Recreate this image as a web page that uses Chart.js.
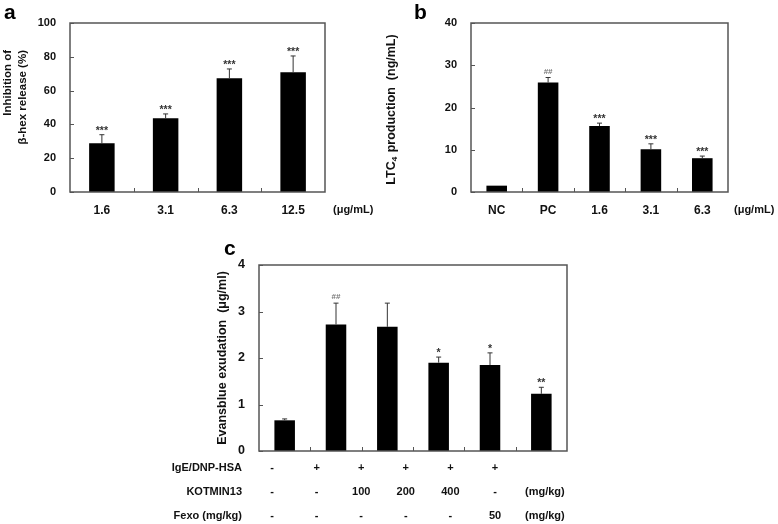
<!DOCTYPE html>
<html lang="en">
  <head>
    <meta charset="UTF-8" />
    <script src="https://cdn.jsdelivr.net/npm/chart.js@4.4.0/dist/chart.umd.min.js"></script>
    <title>Inhibition, LTC4 and Evansblue panels</title>
    <style>
      body {
        margin: 0;
        padding: 0;
        background: #fff;
      }
      .page {
        position: relative;
        width: 778px;
        height: 524px;
        overflow: hidden;
      }
      canvas {
        position: absolute;
      }
    </style>
  </head>
  <body>
    <div class="page">
      <canvas id="panelA" width="380" height="225" style="left:0;top:0"></canvas>
      <canvas id="panelB" width="398" height="225" style="left:380px;top:0"></canvas>
      <canvas id="panelC" width="628" height="294" style="left:150px;top:230px"></canvas>
    </div>
    <script>
      // panel a
      const doseA = ['1.6', '3.1', '6.3', '12.5']
      const inhibA = [28.8, 43.6, 67.3, 70.8]
      const inhibTopA = [33.9, 46.2, 72.8, 80.5]
      const sigA = ['***', '***', '***', '***']
      const ticksA = [0, 20, 40, 60, 80, 100]

      // panel b
      const groupB = ['NC', 'PC', '1.6', '3.1', '6.3']
      const ltcB = [1.5, 25.9, 15.6, 10.1, 8.0]
      const ltcTopB = [1.5, 27.1, 16.3, 11.4, 8.5]
      const sigB = ['', '##', '***', '***', '***']
      const ticksB = [0, 10, 20, 30, 40]

      // panel c
      const groupC = ['1', '2', '3', '4', '5', '6']
      const evansC = [0.66, 2.72, 2.67, 1.9, 1.85, 1.23]
      const evansTopC = [0.69, 3.18, 3.18, 2.02, 2.11, 1.37]
      const sigC = ['', '##', '', '*', '*', '**']
      const ticksC = [0, 1, 2, 3, 4]
      const rowLabels = ['IgE/DNP-HSA', 'KOTMIN13', 'Fexo (mg/kg)']
      const rowUnits = ['', '(mg/kg)', '(mg/kg)']
      const igeRow = ['-', '+', '+', '+', '+', '+']
      const kotminRow = ['-', '-', '100', '200', '400', '-']
      const fexoRow = ['-', '-', '-', '-', '-', '50']

      const FONT = "'Liberation Sans', Arial, sans-serif"

      const panelPlugin = (p) => ({
        id: 'panel_' + p.letter,
        afterDatasetsDraw(chart) {
          const { ctx, chartArea: a, scales } = chart
          const meta = chart.getDatasetMeta(0)
          ctx.save()
          // upper error bars
          ctx.strokeStyle = '#333'
          ctx.lineWidth = 1
          meta.data.forEach((bar, i) => {
            const top = scales.y.getPixelForValue(p.tops[i])
            if (Math.abs(top - bar.y) < 0.5) return
            ctx.beginPath()
            ctx.moveTo(bar.x, bar.y)
            ctx.lineTo(bar.x, top)
            ctx.moveTo(bar.x - 2.5, top)
            ctx.lineTo(bar.x + 2.5, top)
            ctx.stroke()
          })
          // significance marks
          ctx.textAlign = 'center'
          ctx.textBaseline = 'alphabetic'
          meta.data.forEach((bar, i) => {
            const s = p.sig[i]
            if (!s) return
            const top = scales.y.getPixelForValue(p.tops[i])
            if (s[0] === '#') {
              ctx.fillStyle = '#777'
              ctx.font = 'bold 8px ' + FONT
              ctx.fillText(s, bar.x, top - 4)
            } else {
              ctx.fillStyle = '#333'
              ctx.font = 'bold 10.5px ' + FONT
              ctx.fillText(s, bar.x, top - 1)
            }
          })
          ctx.restore()
        },
        afterDraw(chart) {
          const { ctx, chartArea: a, scales } = chart
          ctx.save()
          // frame
          ctx.strokeStyle = '#555'
          ctx.lineWidth = 1.5
          ctx.strokeRect(a.left, a.top, a.right - a.left, a.bottom - a.top)
          // inward ticks
          ctx.lineWidth = 1
          ctx.beginPath()
          scales.y.ticks.forEach((t) => {
            const y = Math.round(scales.y.getPixelForValue(t.value)) + 0.5
            ctx.moveTo(a.left, y)
            ctx.lineTo(a.left + 4, y)
          })
          const n = scales.x.ticks.length
          for (let i = 1; i < n; i++) {
            const x = Math.round(a.left + ((a.right - a.left) * i) / n) + 0.5
            ctx.moveTo(x, a.bottom)
            ctx.lineTo(x, a.bottom - 4)
          }
          ctx.stroke()

          // panel letter
          ctx.fillStyle = '#000'
          ctx.font = 'bold 21px ' + FONT
          ctx.textAlign = 'left'
          ctx.textBaseline = 'alphabetic'
          ctx.fillText(p.letter, p.letterX, p.letterY)

          // y title
          ctx.fillStyle = '#111'
          ctx.font = 'bold ' + p.titleSize + 'px ' + FONT
          p.title.forEach((line, i) => {
            ctx.save()
            ctx.translate(p.titleX[i], p.titleY)
            ctx.rotate(-Math.PI / 2)
            ctx.textAlign = p.titleAlign
            ctx.textBaseline = 'middle'
            if (p.sub && i === 0) {
              // LTC4 with subscript
              const w0 = ctx.measureText(line[0]).width
              ctx.font = 'bold 8px ' + FONT
              const w1 = ctx.measureText(line[1]).width
              ctx.font = 'bold ' + p.titleSize + 'px ' + FONT
              const w2 = ctx.measureText(line[2]).width
              let x = -(w0 + w1 + w2) / 2
              ctx.textAlign = 'left'
              ctx.fillText(line[0], x, 0)
              ctx.font = 'bold 8px ' + FONT
              ctx.fillText(line[1], x + w0, 3)
              ctx.font = 'bold ' + p.titleSize + 'px ' + FONT
              ctx.fillText(line[2], x + w0 + w1 + 1, 0)
            } else {
              ctx.fillText(line, 0, 0)
            }
            ctx.restore()
          })

          // unit on x axis
          if (p.unit) {
            ctx.font = 'bold 11px ' + FONT
            ctx.fillStyle = '#111'
            ctx.textAlign = 'left'
            ctx.textBaseline = 'middle'
            ctx.fillText(p.unit, a.right + p.unitDx, a.bottom + 18)
          }

          // treatment table
          if (p.table) {
            ctx.font = 'bold 11px ' + FONT
            ctx.fillStyle = '#111'
            ctx.textBaseline = 'middle'
            p.table.forEach((row, r) => {
              const y = a.bottom + 17 + r * 24
              ctx.textAlign = 'right'
              ctx.fillText(rowLabels[r], a.left - 17, y)
              ctx.textAlign = 'center'
              row.forEach((v, c) => {
                ctx.fillText(v, a.left + 13 + c * 44.6, y)
              })
              if (rowUnits[r]) {
                ctx.textAlign = 'left'
                ctx.fillText(rowUnits[r], a.left + 266, y)
              }
            })
          }
          ctx.restore()
        },
      })

      const makeChart = (id, labels, values, tickVals, max, pad, yWidth, xHeight, tickSize, showX, plugin) =>
        new Chart(document.getElementById(id), {
          type: 'bar',
          data: {
            labels: labels,
            datasets: [
              {
                data: values,
                backgroundColor: '#000',
                borderWidth: 0,
                barPercentage: 0.4,
                categoryPercentage: 1,
              },
            ],
          },
          options: {
            responsive: false,
            animation: false,
            devicePixelRatio: 1,
            layout: { padding: pad },
            plugins: { legend: { display: false }, tooltip: { enabled: false } },
            scales: {
              x: {
                grid: { display: false, drawTicks: false },
                border: { display: false },
                ticks: {
                  display: showX,
                  padding: 11,
                  color: '#111',
                  font: { family: FONT, size: 12, weight: 'bold' },
                },
                afterFit: (s) => {
                  s.height = xHeight
                },
              },
              y: {
                min: 0,
                max: max,
                grid: { display: false, drawTicks: false },
                border: { display: false },
                afterBuildTicks: (s) => {
                  s.ticks = tickVals.map((v) => ({ value: v }))
                },
                ticks: {
                  padding: 14,
                  color: '#111',
                  font: { family: FONT, size: tickSize, weight: 'bold' },
                },
                afterFit: (s) => {
                  s.width = yWidth
                },
              },
            },
          },
          plugins: [plugin],
        })

      makeChart('panelA', doseA, inhibA, ticksA, 100,
        { left: 0, right: 55, top: 23, bottom: 0 }, 70, 33, 11, true,
        panelPlugin({
          letter: 'a', letterX: 4, letterY: 19,
          tops: inhibTopA, sig: sigA,
          title: ['Inhibition of', '\u03b2-hex release (%)'],
          titleSize: 11.5, titleX: [8, 23], titleY: 50, titleAlign: 'right',
          unit: '(\u03bcg/mL)', unitDx: 8,
        }))

      makeChart('panelB', groupB, ltcB, ticksB, 40,
        { left: 0, right: 50, top: 23, bottom: 0 }, 91, 33, 11, true,
        panelPlugin({
          letter: 'b', letterX: 34, letterY: 19,
          tops: ltcTopB, sig: sigB, sub: true,
          title: [['LTC', '4', ' production  (ng/mL)']],
          titleSize: 12.5, titleX: [12], titleY: 110, titleAlign: 'center',
          unit: '(\u03bcg/mL)', unitDx: 6,
        }))

      makeChart('panelC', groupC, evansC, ticksC, 4,
        { left: 0, right: 211, top: 35, bottom: 0 }, 109, 73, 12.5, false,
        panelPlugin({
          letter: 'c', letterX: 74, letterY: 25,
          tops: evansTopC, sig: sigC,
          title: ['Evansblue exudation  (\u03bcg/ml)'],
          titleSize: 12.5, titleX: [73], titleY: 128, titleAlign: 'center',
          table: [igeRow, kotminRow, fexoRow],
        }))
    </script>
  </body>
</html>
